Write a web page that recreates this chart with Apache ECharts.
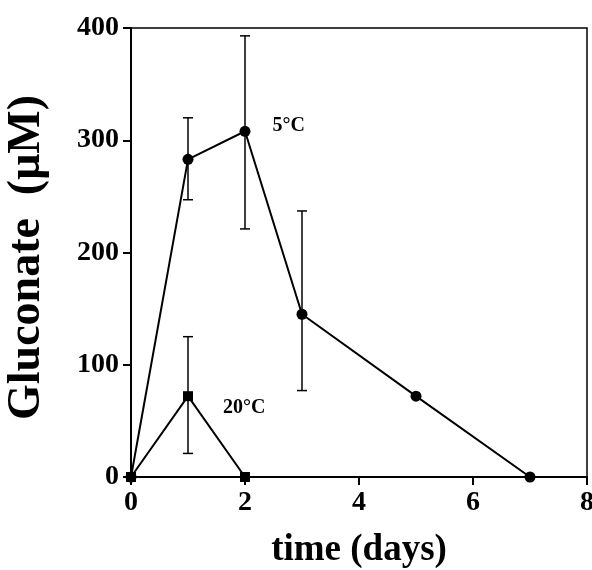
<!DOCTYPE html>
<html><head><meta charset="utf-8">
<script src="https://cdn.jsdelivr.net/npm/echarts@6/dist/echarts.min.js"></script>
<style>html,body{margin:0;padding:0;background:#fff}#c{width:592px;height:570px}</style>
</head><body><div id="c"></div>
<script>
var xTicks = [0, 2, 4, 6, 8];
var yTicks = [0, 100, 200, 300, 400];
var days5 = [0, 1, 2, 3, 5, 7];
var gluc5 = [0, 283, 308, 145, 72, 0];
var err5Low = [null, 247, 221, 77, null, null];
var err5High = [null, 320, 393, 237, null, null];
var days20 = [0, 1, 2];
var gluc20 = [0, 72, 0];
var err20Low = [null, 21, null];
var err20High = [null, 125, null];
var label5 = '5°C';
var label20 = '20°C';

var FONT = '"Liberation Serif","Times New Roman",serif';

function mkData(xs, ys, lblIdx, lblText, lblOpts) {
  return xs.map(function (x, i) {
    var d = { value: [x, ys[i]] };
    if (i === lblIdx) d.label = Object.assign({ show: true, formatter: lblText }, lblOpts);
    return d;
  });
}
function mkErr(xs, lo, hi) {
  var out = [];
  xs.forEach(function (x, i) { if (lo[i] != null) out.push([x, lo[i], hi[i]]); });
  return out;
}
function errRender(params, api) {
  var x = api.value(0);
  var lo = api.coord([x, api.value(1)]);
  var hi = api.coord([x, api.value(2)]);
  var w = 5;
  var st = { stroke: '#000', lineWidth: 1.5 };
  return { type: 'group', children: [
    { type: 'line', shape: { x1: lo[0], y1: lo[1], x2: hi[0], y2: hi[1] }, style: st },
    { type: 'line', shape: { x1: lo[0] - w, y1: lo[1], x2: lo[0] + w, y2: lo[1] }, style: st },
    { type: 'line', shape: { x1: hi[0] - w, y1: hi[1], x2: hi[0] + w, y2: hi[1] }, style: st }
  ]};
}

var chart = echarts.init(document.getElementById('c'));
var lblStyle = { color: '#000', fontFamily: FONT, fontWeight: 'bold', fontSize: 20 };
chart.setOption({
  animation: false,
  backgroundColor: '#fff',
  grid: { left: 131, right: 5, top: 28, bottom: 93, outerBoundsMode: 'none', containLabel: false,
          show: true, borderColor: '#000', borderWidth: 1.5 },
  xAxis: {
    type: 'value', min: xTicks[0], max: xTicks[xTicks.length - 1], interval: 2,
    name: 'time (days)', nameLocation: 'middle', nameGap: 55,
    nameTextStyle: { color: '#000', fontFamily: FONT, fontWeight: 'bold', fontSize: 37 },
    axisLine: { show: true, onZero: false, lineStyle: { color: '#000', width: 2 } },
    axisTick: { show: true, inside: false, length: 8, lineStyle: { color: '#000', width: 2 } },
    axisLabel: { color: '#000', fontFamily: FONT, fontWeight: 'bold', fontSize: 28, margin: 12 },
    splitLine: { show: false }
  },
  yAxis: {
    type: 'value', min: yTicks[0], max: yTicks[yTicks.length - 1], interval: 100,
    name: 'Gluconate  (μM)', nameLocation: 'middle', nameGap: 81,
    nameTextStyle: { color: '#000', fontFamily: FONT, fontWeight: 'bold', fontSize: 46, padding: [0, 10, 0, 0] },
    axisLine: { show: true, onZero: false, lineStyle: { color: '#000', width: 2 } },
    axisTick: { show: true, inside: false, length: 8, lineStyle: { color: '#000', width: 2 } },
    axisLabel: { color: '#000', fontFamily: FONT, fontWeight: 'bold', fontSize: 28, margin: 12 },
    splitLine: { show: false }
  },
  series: [
    { type: 'custom', renderItem: errRender, data: mkErr(days5, err5Low, err5High), z: 1 },
    { type: 'custom', renderItem: errRender, data: mkErr(days20, err20Low, err20High), z: 1 },
    {
      type: 'line', symbol: 'circle', symbolSize: 11, z: 3,
      lineStyle: { color: '#000', width: 2 }, itemStyle: { color: '#000' },
      data: mkData(days5, gluc5, 2, label5, Object.assign({ position: 'right', distance: 22, offset: [0, -5] }, lblStyle))
    },
    {
      type: 'line', symbol: 'rect', symbolSize: 10, z: 3,
      lineStyle: { color: '#000', width: 2 }, itemStyle: { color: '#000' },
      data: mkData(days20, gluc20, 1, label20, Object.assign({ position: 'right', distance: 30, offset: [0, 12] }, lblStyle))
    }
  ]
});
</script></body></html>
